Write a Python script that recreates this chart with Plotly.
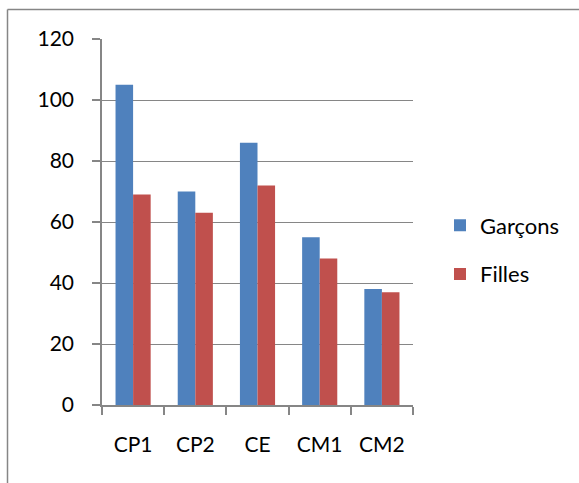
import plotly.graph_objects as go

# Effectifs par niveau
niveaux = ["CP1", "CP2", "CE", "CM1", "CM2"]
garcons = [105, 70, 86, 55, 38]
filles = [69, 63, 72, 48, 37]

W, H = 579, 483
ML, MR, MT, MB = 102, 166, 39, 78
PW, PH = W - ML - MR, H - MT - MB

GRID = "#868686"
FONT = dict(family="Lato, Carlito, Calibri, sans-serif", size=21, color="#000000")
LEG_FONT = dict(FONT, size=22)


def px_x(p):
    return (p - ML) / PW


def px_y(p):
    return 1 - (p - MT) / PH


fig = go.Figure()
fig.add_trace(go.Bar(x=niveaux, y=garcons, name="Garçons",
                     marker=dict(color="#4F81BD", line=dict(width=0)),
                     legendgroup="g"))
fig.add_trace(go.Bar(x=niveaux, y=filles, name="Filles",
                     marker=dict(color="#C0504D", line=dict(width=0)),
                     legendgroup="f"))

fig.update_layout(
    width=W, height=H,
    margin=dict(l=ML, r=MR, t=MT, b=MB, pad=0),
    paper_bgcolor="white", plot_bgcolor="white",
    font=FONT,
    barmode="group", bargap=0.435, bargroupgap=0,
    showlegend=True,
    legend=dict(x=px_x(440), xanchor="left", y=px_y(250), yanchor="middle",
                traceorder="grouped", tracegroupgap=17,
                font=LEG_FONT, bgcolor="rgba(0,0,0,0)"),
    shapes=[
        dict(type="line", xref="paper", yref="paper",
             x0=px_x(7.5), x1=px_x(W + 5), y0=px_y(9.5), y1=px_y(9.5),
             line=dict(color=GRID, width=1.5)),
        dict(type="line", xref="paper", yref="paper",
             x0=px_x(7.5), x1=px_x(7.5), y0=px_y(9.5), y1=px_y(H + 5),
             line=dict(color=GRID, width=1.5)),
    ],
)

fig.update_xaxes(
    type="category", showline=True, linecolor=GRID, linewidth=1.5,
    ticks="outside", tickson="boundaries", ticklen=8, tickcolor=GRID, tickwidth=1.5,
    showgrid=False, ticklabelstandoff=20, tickfont=FONT,
)
fig.update_yaxes(
    range=[0, 120], dtick=20, tick0=0,
    showline=True, linecolor=GRID, linewidth=1.5,
    ticks="outside", ticklen=8, tickcolor=GRID, tickwidth=1.5,
    showgrid=True, gridcolor=GRID, gridwidth=1.2, zeroline=False,
    ticklabelstandoff=14, tickfont=FONT,
)

fig.write_html("out.html")
